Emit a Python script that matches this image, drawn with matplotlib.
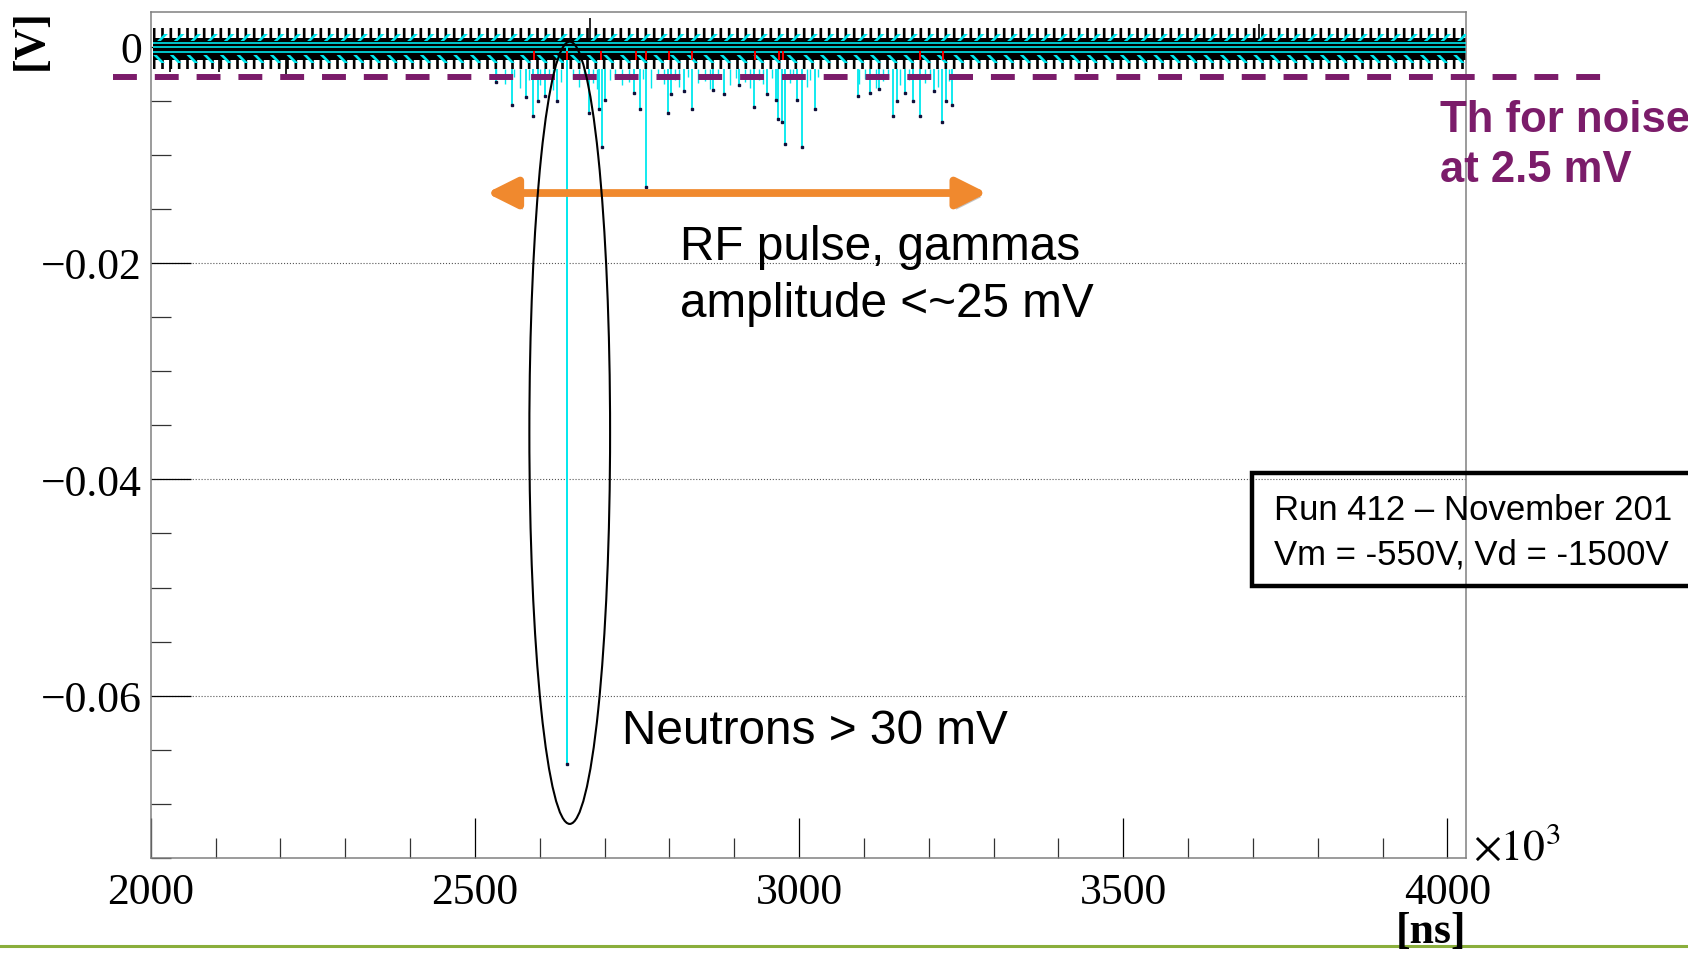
import numpy as np
import matplotlib.pyplot as plt
from matplotlib.patches import Ellipse, FancyArrowPatch
from matplotlib.lines import Line2D
from matplotlib.ticker import MultipleLocator
import matplotlib.patheffects as pe

# axes (x in units of 10^3 ns, y in V)
x_range = (2000, 4029)
y_range = (-0.075, 0.0032)
xticks = [2000, 2500, 3000, 3500, 4000]
xtick_labels = ['2000', '2500', '3000', '3500', '4000']
yticks = [0.0, -0.02, -0.04, -0.06]
ytick_labels = ['0', '\u22120.02', '\u22120.04', '\u22120.06']

# noise band
noise_start = 2003
noise_top = 0.0017
noise_core_top = 0.0008
noise_core_bottom = -0.0012
noise_bottom = -0.0021
cyan_levels = [0.0003, 0.0, -0.0005]

# gamma spikes during the RF pulse
spike_x = [2532, 2557, 2579, 2590, 2598, 2608, 2626, 2676, 2692, 2696,
           2701, 2745, 2754, 2764, 2798, 2802, 2822, 2835, 2868, 2884,
           2907, 2930, 2951, 2964, 2968, 2973, 2979, 2997, 3005, 3024,
           3091, 3110, 3124, 3145, 3151, 3163, 3176, 3186, 3208, 3221,
           3227, 3236]
spike_y = [-0.0033, -0.0054, -0.0047, -0.0064, -0.0050, -0.0046, -0.0050, -0.0061, -0.0058, -0.0093,
           -0.0049, -0.0043, -0.0058, -0.0130, -0.0061, -0.0044, -0.0041, -0.0058, -0.0040, -0.0044,
           -0.0036, -0.0056, -0.0044, -0.0049, -0.0067, -0.0070, -0.0090, -0.0049, -0.0093, -0.0058,
           -0.0046, -0.0043, -0.0039, -0.0064, -0.0050, -0.0043, -0.0050, -0.0064, -0.0041, -0.0070,
           -0.0050, -0.0054]

# short spikes just below the noise
grass_x = [2533, 2546, 2560, 2569, 2584, 2601, 2615, 2620, 2633, 2651, 2660, 2668, 2682,
           2689, 2709, 2716, 2727, 2738, 2759, 2771, 2782, 2791, 2809, 2815, 2828, 2844,
           2855, 2862, 2875, 2894, 2902, 2916, 2924, 2939, 2945, 2958, 2986, 2991, 3012,
           3017, 3030, 3093, 3101, 3118, 3129, 3137, 3155, 3170, 3194, 3202, 3215, 3231]
grass_y = [-0.0030, -0.0035, -0.0028, -0.0038, -0.0031, -0.0036, -0.0029, -0.0040, -0.0033, -0.0030,
           -0.0037, -0.0029, -0.0034, -0.0039, -0.0031, -0.0028, -0.0036, -0.0033, -0.0030, -0.0038,
           -0.0029, -0.0035, -0.0031, -0.0037, -0.0028, -0.0034, -0.0032, -0.0039, -0.0030, -0.0036,
           -0.0029, -0.0033, -0.0038, -0.0031, -0.0035, -0.0029, -0.0034, -0.0030, -0.0037, -0.0031,
           -0.0028, -0.0035, -0.0030, -0.0038, -0.0032, -0.0029, -0.0036, -0.0031, -0.0034, -0.0030,
           -0.0037, -0.0032]

# neutron pulse
neutron_x = 2642
neutron_y = -0.0663

# red marks inside the noise
red_x = [2591, 2642, 2694, 2748, 2764, 2799, 2835, 2932, 2969, 2975, 3186, 3222]

# black outliers of the noise
black_x = [2029, 2105, 2208, 2678, 3444, 3710]
black_y = [-0.0024, -0.0024, -0.0025, 0.0026, -0.0024, 0.0021]

# annotations
threshold = -0.0028
threshold_span = (1942, 4259)
arrow_span = (2518, 3290)
arrow_y = -0.01354
ellipse_center = (2646.3, -0.0357)
ellipse_size = (124.5, 0.0723)

W, H = 1688, 954
def fx(px):
    return px / W
def fy(py):
    return 1 - py / H

plt.rcParams['hatch.linewidth'] = 1.9
plt.rcParams['mathtext.fontset'] = 'stix'

fig = plt.figure(figsize=(16.88, 9.54), dpi=100)
ax = fig.add_axes([fx(150.7), fy(859), (1466.2 - 150.7) / W, (859 - 12.9) / H])

serif = 'Liberation Serif'
sans = 'Liberation Sans'
cyan = '#00E8EE'
purple = '#7B1C6A'

# noise band
ax.fill_between([noise_start, x_range[1]], noise_bottom, noise_top,
                facecolor='none', edgecolor='black', hatch='||', linewidth=0, zorder=2)
ax.fill_between([noise_start, x_range[1]], noise_core_bottom, noise_core_top,
                color='black', linewidth=0, zorder=2)
ax.fill_between([noise_start, x_range[1]], 0.0005, 0.0012,
                facecolor='none', edgecolor=cyan, hatch='//', linewidth=0, zorder=3)
ax.fill_between([noise_start, x_range[1]], -0.0015, -0.0008,
                facecolor='none', edgecolor=cyan, hatch='\\\\', linewidth=0, zorder=3)
for lev in cyan_levels:
    ax.hlines(lev, noise_start, x_range[1], color=cyan, lw=1.2, zorder=3)

ax.vlines(black_x, 0, black_y, color='black', lw=1.2, zorder=2)

# RF pulse spikes
ax.vlines(grass_x, noise_bottom, grass_y, color=cyan, lw=1.0, zorder=3)
ax.vlines(spike_x, noise_bottom, spike_y, color=cyan, lw=1.3, zorder=3)
ax.plot(spike_x, spike_y, 's', ms=1.7, color='#10103a', zorder=4)
ax.vlines(red_x, -0.0012, -0.0004, color='red', lw=1.4, zorder=4)

# neutron pulse
ax.vlines(neutron_x, 0, neutron_y, color=cyan, lw=1.4, zorder=3)
ax.plot([neutron_x], [neutron_y], 's', ms=2.0, color='#10103a', zorder=4)

ax.set_xlim(*x_range)
ax.set_ylim(*y_range)
ax.set_xticks(xticks, labels=xtick_labels)
ax.set_yticks(yticks, labels=ytick_labels)
ax.xaxis.set_minor_locator(MultipleLocator(100))
ax.yaxis.set_minor_locator(MultipleLocator(0.005))
ax.tick_params(which='both', direction='in', top=False, right=False)
ax.tick_params(which='major', length=28.8, width=0.9, color='black')
ax.tick_params(which='minor', length=14.4, width=0.9, color='#333333')
ax.tick_params(axis='x', which='major', pad=10)
ax.tick_params(axis='y', which='major', pad=6.3)
for lab in ax.get_xticklabels() + ax.get_yticklabels():
    lab.set_fontfamily(serif)
    lab.set_fontsize(31.5)
for s in ax.spines.values():
    s.set_color('#808080')
    s.set_linewidth(1.1)
ax.yaxis.grid(True, which='major', linestyle=':', color='#555555', lw=0.8)
ax.set_axisbelow(True)

# threshold line
ax.add_line(Line2D(threshold_span, [threshold, threshold], color=purple, lw=4.3,
                   dashes=(4.0, 3.0), solid_capstyle='butt', dash_capstyle='butt',
                   clip_on=False, zorder=5))

# RF arrow
arrow = FancyArrowPatch((arrow_span[0], arrow_y), (arrow_span[1], arrow_y),
                        arrowstyle='<|-|>,head_length=0.9,head_width=0.45',
                        mutation_scale=20, lw=5.6, color='#F0892E',
                        shrinkA=0, shrinkB=0, zorder=6,
                        path_effects=[pe.SimplePatchShadow(offset=(2, -3), shadow_rgbFace='#888888', alpha=0.5),
                                      pe.Normal()])
ax.add_patch(arrow)

# neutron ellipse
ax.add_patch(Ellipse(ellipse_center, ellipse_size[0], ellipse_size[1], fill=False,
                     edgecolor='black', lw=1.5, zorder=6, clip_on=False))

# texts
fig.text(fx(680.4), fy(247), 'RF pulse, gammas', family=sans, fontsize=34.4, va='center', ha='left')
fig.text(fx(680.4), fy(305), 'amplitude <~25 mV', family=sans, fontsize=34.4, va='center', ha='left')
fig.text(fx(622.2), fy(731.5), 'Neutrons > 30 mV', family=sans, fontsize=34.4, va='center', ha='left')
fig.text(fx(1440.4), fy(120.5), 'Th for noise', family=sans, fontsize=31.4, weight='bold',
         color=purple, va='center', ha='left')
fig.text(fx(1440.4), fy(170.5), 'at 2.5 mV', family=sans, fontsize=31.4, weight='bold',
         color=purple, va='center', ha='left')

# run box (cut by the slide edge)
fig.add_artist(Line2D([fx(1688), fx(1252), fx(1252), fx(1688)],
                      [fy(474), fy(474), fy(587), fy(587)],
                      transform=fig.transFigure, color='black', lw=3.2,
                      solid_joinstyle='miter'))
fig.text(fx(1273.5), fy(510), 'Run 412 \u2013 November 201', family=sans, fontsize=25,
         va='center', ha='left')
fig.text(fx(1273.5), fy(555), 'Vm = -550V, Vd = -1500V', family=sans, fontsize=25,
         va='center', ha='left')

# axis titles
fig.text(fx(30.5), fy(9), '[V]', family=serif, fontsize=31.5, weight='bold',
         rotation=90, ha='center', va='top')
fig.text(fx(1466), fy(912), '[ns]', family=serif, fontsize=31.5, weight='bold',
         ha='right', va='top')
fig.text(fx(1473), fy(860), r'$\times10^{3}$', fontsize=31.5, ha='left', va='baseline')

# slide footer line
fig.add_artist(Line2D([0, 1], [fy(947), fy(947)], transform=fig.transFigure,
                      color='#8AAE3C', lw=2.2))

fig.savefig('out.png', dpi=100)
